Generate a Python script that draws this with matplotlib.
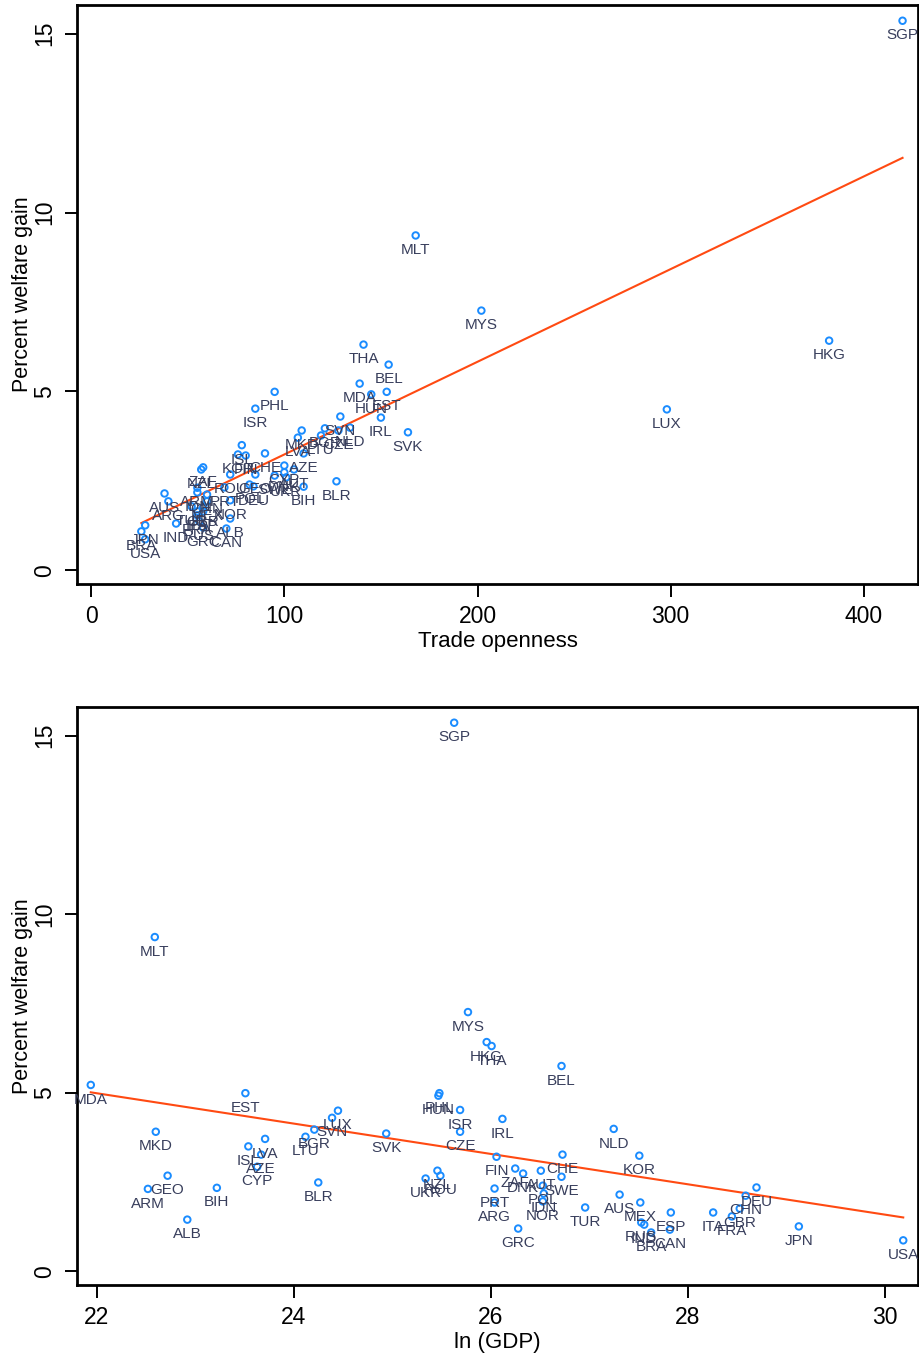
import numpy as np
import matplotlib
matplotlib.use("Agg")
import matplotlib.pyplot as plt

plt.rcParams['font.family'] = ['Liberation Sans', 'DejaVu Sans']

# country codes, welfare gain (%), trade openness, ln(GDP)
countries = ["SGP", "MLT", "MYS", "HKG", "THA", "BEL", "MDA", "EST", "PHL", "HUN",
             "LUX", "ISR", "SVN", "IRL", "SVK", "NLD", "BGR", "MKD", "CZE", "LTU",
             "LVA", "ISL", "AZE", "CHE", "KOR", "FIN", "CYP", "ZAF", "NZL", "AUT",
             "DNK", "ROU", "GEO", "SWE", "UKR", "BLR", "POL", "DEU", "BIH", "PRT",
             "ARM", "IDN", "AUS", "CHN", "NOR", "ARG", "MEX", "TUR", "GBR", "ITA",
             "ESP", "FRA", "ALB", "RUS", "IND", "JPN", "GRC", "CAN", "BRA", "USA"]

welfare = [15.36, 9.36, 7.26, 6.42, 6.31, 5.75, 5.22, 4.99, 4.99, 4.92,
           4.50, 4.52, 4.30, 4.27, 3.86, 3.99, 3.97, 3.91, 3.91, 3.77,
           3.71, 3.50, 3.27, 3.27, 3.24, 3.21, 2.93, 2.88, 2.82, 2.82,
           2.74, 2.68, 2.68, 2.65, 2.60, 2.49, 2.40, 2.35, 2.34, 2.32,
           2.31, 2.18, 2.15, 2.12, 1.96, 1.93, 1.93, 1.79, 1.76, 1.65,
           1.65, 1.54, 1.45, 1.37, 1.31, 1.26, 1.20, 1.17, 1.09, 0.87]

openness = [420, 168, 202, 382, 141, 154, 139, 153, 95, 145,
            298, 85, 129, 150, 164, 134, 121, 109, 128, 119,
            107, 78, 110, 90, 76, 80, 100, 58, 57, 105,
            100, 72, 85, 95, 101, 127, 82, 84, 110, 69,
            55, 55, 38, 60, 72, 40, 60, 52, 58, 55,
            58, 55, 72, 56, 44, 28, 58, 70, 26, 28]

ln_gdp = [25.63, 22.59, 25.77, 25.96, 26.01, 26.72, 21.94, 23.51, 25.48, 25.47,
          24.45, 25.69, 24.39, 26.12, 24.94, 27.25, 24.21, 22.60, 25.69, 24.12,
          23.71, 23.54, 23.67, 26.73, 27.51, 26.06, 23.63, 26.25, 25.46, 26.51,
          26.33, 25.49, 22.72, 26.72, 25.34, 24.25, 26.53, 28.70, 23.22, 26.04,
          22.52, 26.54, 27.31, 28.59, 26.53, 26.04, 27.52, 26.96, 28.53, 28.26,
          27.83, 28.45, 22.92, 27.53, 27.56, 29.13, 26.28, 27.82, 27.63, 30.19]

MARKER = "#1a8cff"
LINE = "#ff4a12"
LABEL = "#383e5c"


def scatter_panel(ax, x, y, xlim, xticks, xlabel):
    x = np.asarray(x, dtype=float)
    y = np.asarray(y, dtype=float)
    ax.scatter(x, y, s=22, facecolors="none", edgecolors=MARKER, linewidths=1.4, zorder=3)
    for code, xi, yi in zip(countries, x, y):
        ax.annotate(code, (xi, yi), xytext=(0, -5.5), textcoords="offset points",
                    ha="center", va="top", fontsize=11, color=LABEL, zorder=4)
    # linear fit
    b, a = np.polyfit(x, y, 1)
    xs = np.array([x.min(), x.max()])
    ax.plot(xs, a + b * xs, color=LINE, linewidth=1.5, zorder=2)

    ax.set_xlim(*xlim)
    ax.set_ylim(-0.38, 15.8)
    ax.set_xticks(xticks)
    ax.set_yticks([0, 5, 10, 15])
    ax.tick_params(direction="out", length=9, width=1.4, labelsize=16.5, pad=6)
    for lab in ax.get_yticklabels():
        lab.set_rotation(90)
        lab.set_va("center")
    for sp in ax.spines.values():
        sp.set_linewidth(2)
    ax.set_xlabel(xlabel, fontsize=16, labelpad=2)
    ax.set_ylabel("Percent welfare gain", fontsize=15.5, labelpad=0)


fig = plt.figure(figsize=(9.19, 13.56), dpi=100)
ax1 = fig.add_axes([77 / 919, 1 - 584 / 1356, 841 / 919, 579 / 1356])
ax2 = fig.add_axes([77 / 919, 1 - 1285 / 1356, 841 / 919, 578 / 1356])

scatter_panel(ax1, openness, welfare, (-7.3, 428), [0, 100, 200, 300, 400], "Trade openness")
scatter_panel(ax2, ln_gdp, welfare, (21.8, 30.34), [22, 24, 26, 28, 30], "ln (GDP)")

fig.savefig("out.png", dpi=100)
